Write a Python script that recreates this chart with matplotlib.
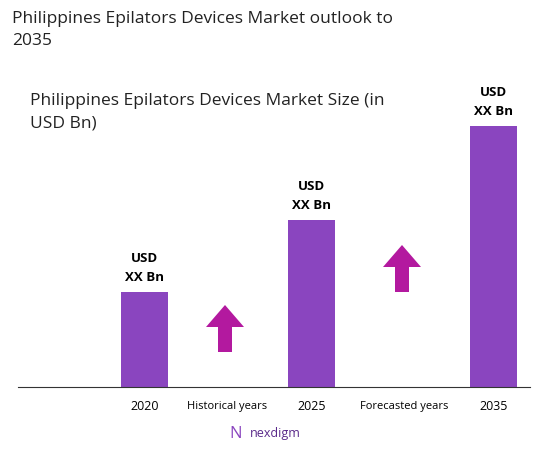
import matplotlib
matplotlib.use("Agg")
import matplotlib.pyplot as plt
from matplotlib.patches import FancyArrow

years = ["2020", "2025", "2035"]
values = [95, 167, 261]
labels = ["USD\nXX Bn", "USD\nXX Bn", "USD\nXX Bn"]
period_labels = ["Historical years", "Forecasted years"]

plt.rcParams['font.family'] = ['Open Sans', 'DejaVu Sans']
W, H = 560, 451
fig = plt.figure(figsize=(W/100, H/100), dpi=100)
ax = fig.add_axes([18/W, (H-387)/H, (530-18)/W, (387-40)/H])
ax.set_xlim(18, 530)
ax.set_ylim(0, 347)
xpos = [144.5, 311.5, 493.5]
purple = "#8a45bf"
ax.bar(xpos, values, width=47, color=purple)
for x, v, l in zip(xpos, values, labels):
    ax.text(x, v + 8, l, ha='center', va='bottom', fontsize=9.5, fontweight='bold', linespacing=1.6)
for s in ['top', 'right', 'left']:
    ax.spines[s].set_visible(False)
ax.spines['bottom'].set_color('#333333')
ax.set_yticks([])
ax.set_xticks(xpos)
ax.set_xticklabels(years, fontsize=9)
ax.tick_params(axis='x', length=0, pad=9)
ax.text(227, -19, period_labels[0], ha='center', va='center', fontsize=8)
ax.text(404, -19, period_labels[1], ha='center', va='center', fontsize=8)
mag = "#b3199f"
for x, y0 in [(225, 35), (402, 95)]:
    ax.add_patch(FancyArrow(x, y0, 0, 47, width=14, head_width=38, head_length=22,
                            length_includes_head=True, color=mag, lw=0))
fig.text(12/W, 1-30/H, "Philippines Epilators Devices Market outlook to\n2035", fontsize=12.5,
         va='center', ha='left', linespacing=1.5, color='#222222', fontweight='medium')
fig.text(30/W, 1-112/H, "Philippines Epilators Devices Market Size (in\nUSD Bn)", fontsize=12.5,
         va='center', ha='left', linespacing=1.5, color='#222222', fontweight='medium')
fig.text(250/W, 1-434/H, "nexdigm", fontsize=9, color='#5a2a8a', ha='left', va='center')
fig.text(236/W, 1-434/H, "N", fontsize=12, color='#8a45bf', ha='center', va='center')
fig.savefig("out.png", dpi=100)
